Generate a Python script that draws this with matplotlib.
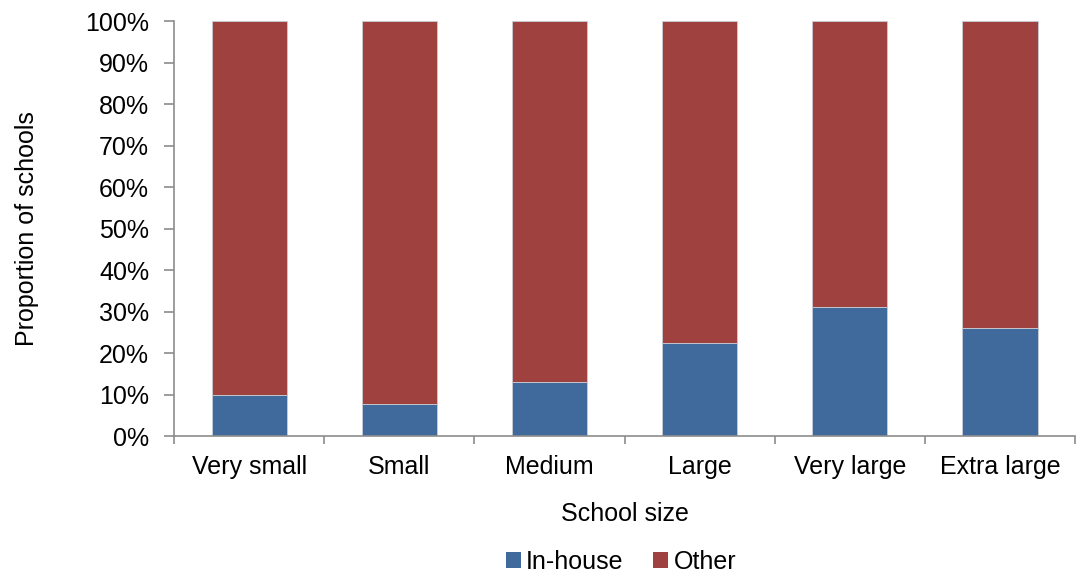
import numpy as np
import matplotlib.pyplot as plt
from matplotlib.patches import Patch

# School size categories and share of schools with in-house provision
categories = ['Very small', 'Small', 'Medium', 'Large', 'Very large', 'Extra large']
in_house = [10.0, 7.6, 13.0, 22.3, 31.0, 26.0]
other = [100 - v for v in in_house]

blue = '#406A9C'
red = '#9E413F'
axis_grey = '#8C8C8C'

plt.rcParams['font.family'] = ['Liberation Sans', 'DejaVu Sans']

fig = plt.figure(figsize=(10.77, 5.74), dpi=100)
ax = fig.add_axes([0.1616, 0.2404, 0.8366, 0.7230])

x = np.arange(len(categories))
ax.bar(x, in_house, width=0.5, color=blue, edgecolor='#C8CDD6', linewidth=0.6)
ax.bar(x, other, width=0.5, bottom=in_house, color=red, edgecolor='#C8CDD6', linewidth=0.6)

ax.set_xlim(-0.5, len(categories) - 0.5)
ax.set_ylim(0, 100)

ax.set_yticks(np.arange(0, 101, 10))
ax.set_yticklabels([f'{v}%' for v in range(0, 101, 10)], fontsize=18)
ax.set_xticks(x)
ax.set_xticklabels(categories, fontsize=18)
ax.set_xticks(np.arange(-0.5, len(categories), 1), minor=True)

ax.tick_params(axis='x', which='major', length=0, pad=14)
ax.tick_params(axis='x', which='minor', length=6, width=1.2, color=axis_grey, direction='out')
ax.tick_params(axis='y', length=7, width=1.2, color=axis_grey, direction='out', pad=11)

for side in ['top', 'right']:
    ax.spines[side].set_visible(False)
for side in ['left', 'bottom']:
    ax.spines[side].set_color(axis_grey)
    ax.spines[side].set_linewidth(1.2)

ax.set_ylabel('Proportion of schools', fontsize=18, labelpad=33)
ax.set_xlabel('School size', fontsize=18, labelpad=16)

handles = [Patch(facecolor=blue, label='In-house'), Patch(facecolor=red, label='Other')]
fig.legend(handles=handles, loc='center', bbox_to_anchor=(0.5766, 0.021), ncol=2,
           frameon=False, fontsize=18, handlelength=0.6, handleheight=0.6,
           handletextpad=0.2, columnspacing=1.2, borderpad=0)

plt.savefig('out.png', dpi=100, facecolor='white')
